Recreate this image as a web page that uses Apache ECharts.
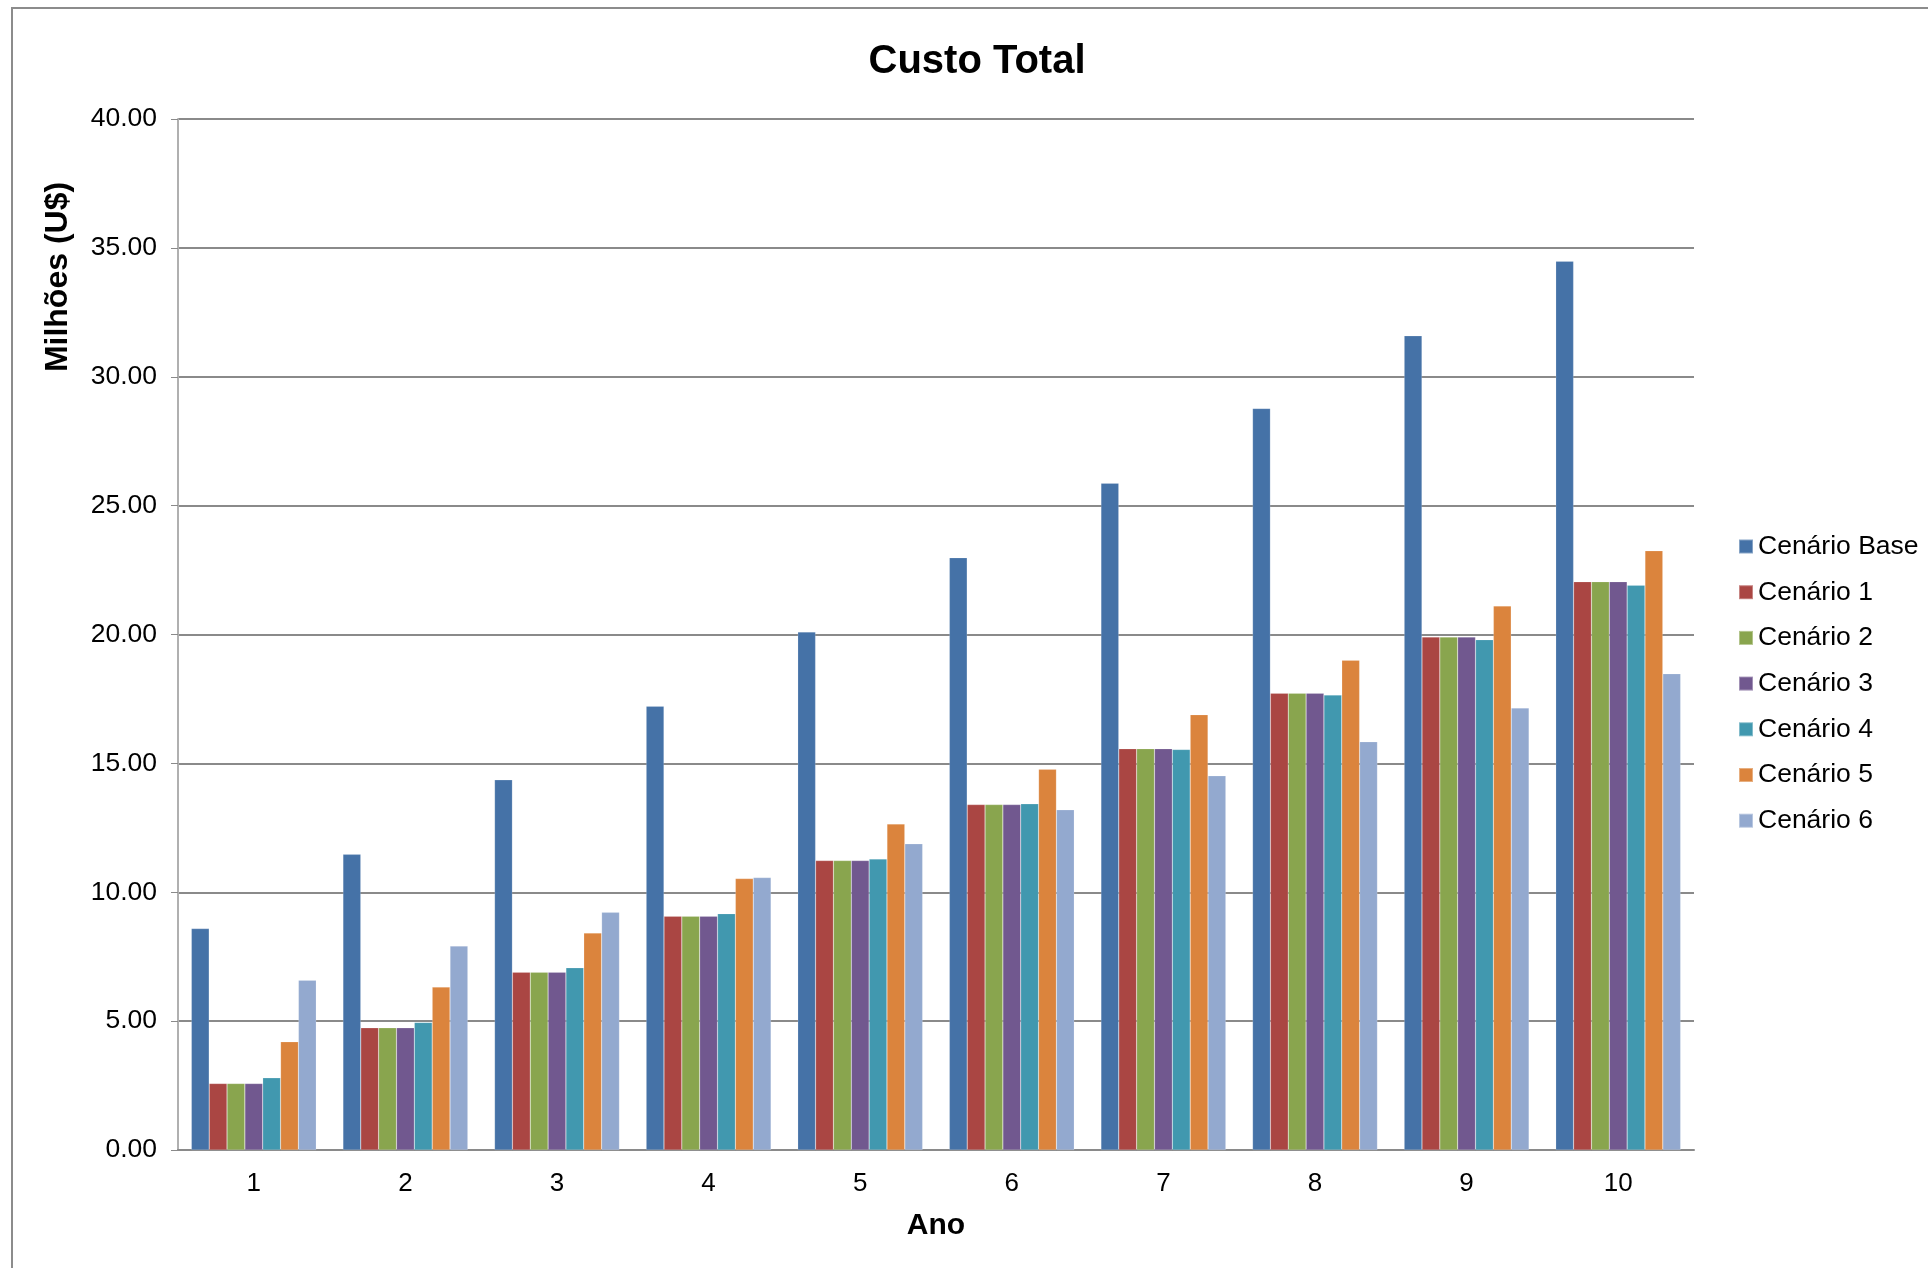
<!DOCTYPE html>
<html>
<head>
<meta charset="utf-8">
<script src="https://cdn.jsdelivr.net/npm/echarts@6/dist/echarts.min.js"></script>
<style>
html,body{margin:0;padding:0;background:#fff;}
#chart{width:1928px;height:1268px;}
</style>
</head>
<body>
<div id="chart"></div>
<script>
const categories = ['1','2','3','4','5','6','7','8','9','10'];
const seriesNames = ['Cenário Base','Cenário 1','Cenário 2','Cenário 3','Cenário 4','Cenário 5','Cenário 6'];
const cenarioBase = [8.59, 11.47, 14.36, 17.22, 20.10, 22.98, 25.87, 28.77, 31.59, 34.48];
const cenario1 = [2.58, 4.74, 6.90, 9.07, 11.23, 13.40, 15.57, 17.72, 19.90, 22.05];
const cenario2 = [2.58, 4.74, 6.90, 9.07, 11.23, 13.40, 15.57, 17.72, 19.90, 22.05];
const cenario3 = [2.58, 4.74, 6.90, 9.07, 11.23, 13.40, 15.57, 17.72, 19.90, 22.05];
const cenario4 = [2.80, 4.95, 7.07, 9.17, 11.29, 13.43, 15.54, 17.65, 19.80, 21.91];
const cenario5 = [4.20, 6.32, 8.42, 10.53, 12.65, 14.77, 16.89, 19.00, 21.11, 23.25];
const cenario6 = [6.59, 7.91, 9.22, 10.57, 11.88, 13.20, 14.52, 15.84, 17.15, 18.48];
const seriesValues = [cenarioBase, cenario1, cenario2, cenario3, cenario4, cenario5, cenario6];
const colors = ['#4572A7','#AA4643','#89A54E','#71588F','#4198AF','#DB843D','#93A9CF'];

const chart = echarts.init(document.getElementById('chart'), null, {renderer:'canvas'});
const FONT = '"Liberation Sans", Arial, sans-serif';

const option = {
  animation: false,
  color: colors,
  textStyle: {fontFamily: FONT},
  grid: {left: 178, right: 234, top: 119, bottom: 118, containLabel: false},
  graphic: [
    {type:'rect', shape:{x:12, y:8, width:1940, height:1290}, style:{fill:'none', stroke:'#8c8c8c', lineWidth:2}, silent:true, z:-10},
    {type:'text', x:977, y:62, style:{text:'Custo Total', fontFamily:FONT, fontWeight:'bold', fontSize:40, fill:'#000', align:'center', verticalAlign:'middle'}},
    {type:'text', x:58, y:277, rotation:Math.PI/2, style:{text:'Milhões (U$)', fontFamily:FONT, fontWeight:'bold', fontSize:32, fill:'#000', align:'center', verticalAlign:'middle'}}
  ],
  legend: {
    orient: 'vertical',
    left: 1733,
    top: 528,
    itemWidth: 14,
    itemHeight: 14,
    itemGap: 18.7,
    icon: 'rect',
    textStyle: {fontFamily: FONT, fontSize: 26.5, lineHeight: 26, color: '#000'},
    data: seriesNames
  },
  xAxis: {
    type: 'category',
    data: categories,
    name: 'Ano',
    nameLocation: 'middle',
    nameGap: 61,
    nameTextStyle: {fontFamily: FONT, fontWeight: 'bold', fontSize: 30, color: '#000'},
    axisLine: {lineStyle: {color: '#8a8a8a', width: 2}},
    axisTick: {show: false},
    axisLabel: {fontFamily: FONT, fontSize: 26, color: '#000', margin: 21}
  },
  yAxis: {
    type: 'value',
    min: 0,
    max: 40,
    interval: 5,
    axisLine: {show: true, lineStyle: {color: '#b0b0b0', width: 2}},
    axisTick: {show: true, length: 7, lineStyle: {color: '#8a8a8a', width: 1}},
    axisLabel: {fontFamily: FONT, fontSize: 26.5, color: '#000', margin: 21, formatter: v => v.toFixed(2)},
    splitLine: {lineStyle: {color: '#8a8a8a', width: 2}}
  },
  series: seriesNames.map((name, i) => ({
    name: name,
    type: 'bar',
    data: seriesValues[i],
    barGap: '0%',
    barCategoryGap: '17.6%',
    itemStyle: {color: colors[i], borderColor: 'rgba(255,255,255,0.35)', borderWidth: 0.5}
  }))
};
chart.setOption(option);
</script>
</body>
</html>
